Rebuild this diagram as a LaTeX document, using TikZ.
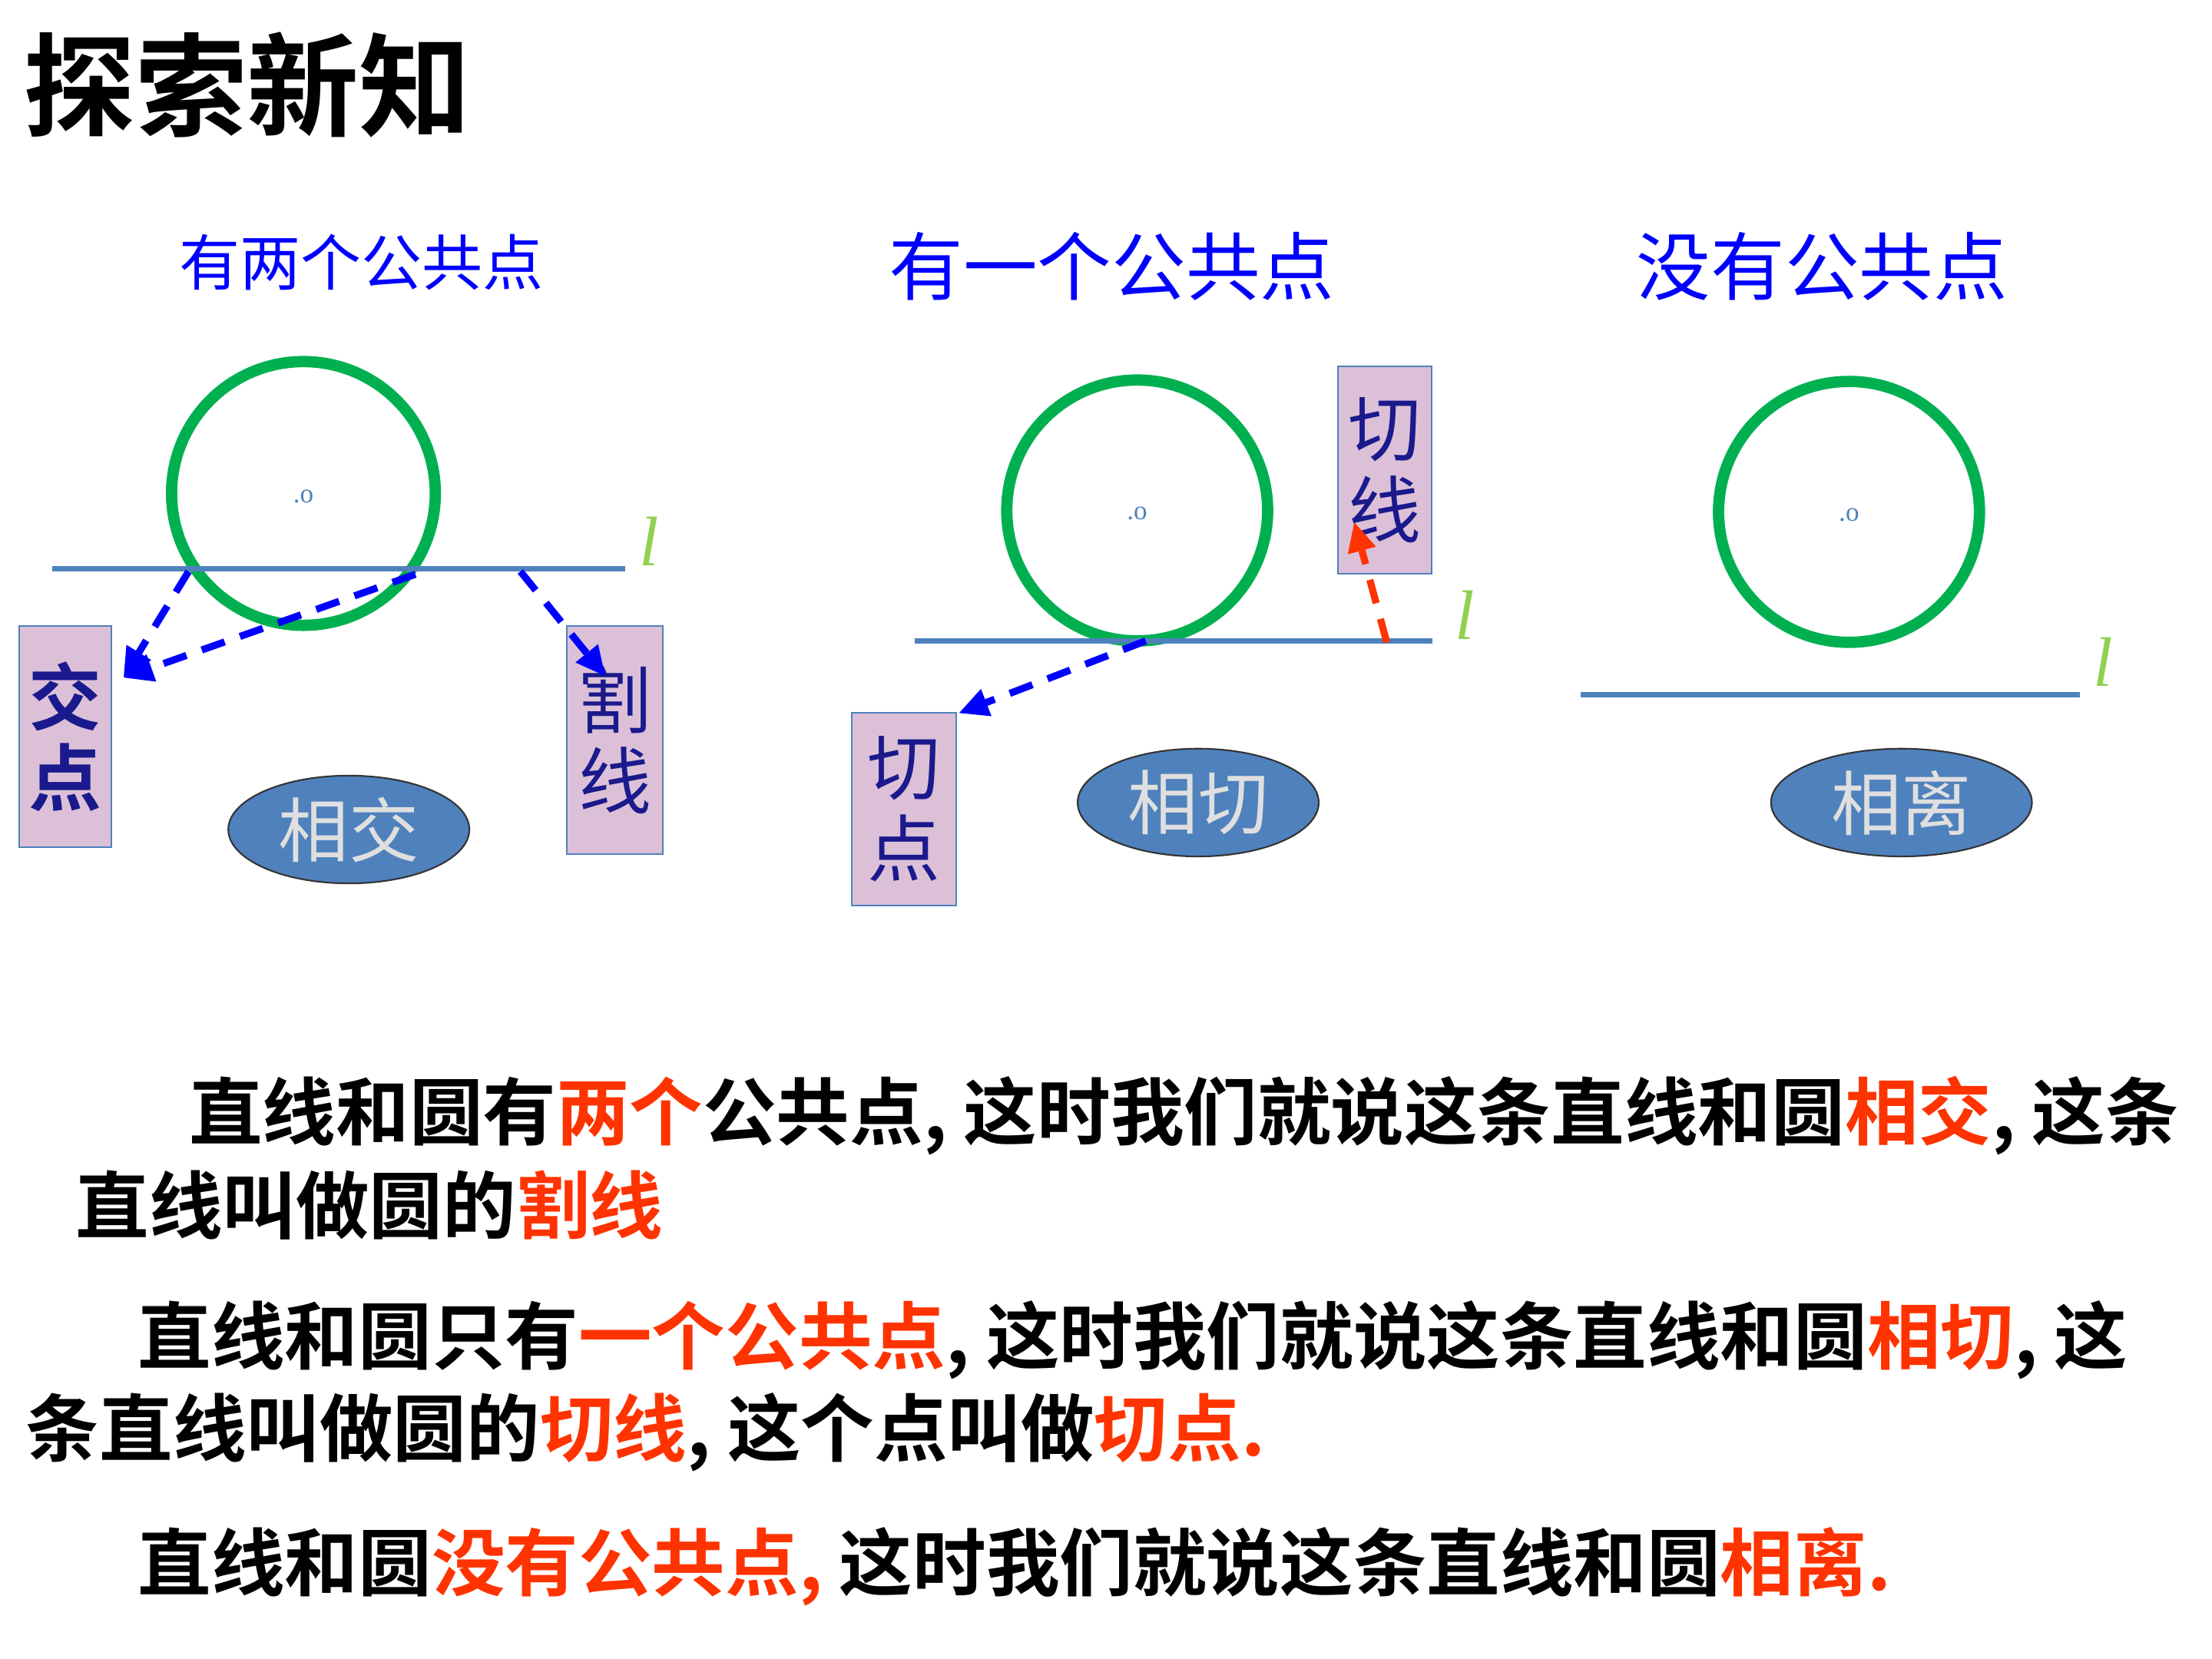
\documentclass[tikz,border=0pt]{standalone}
\usepackage{fontspec}
\setmainfont{Liberation Serif}
\newfontfamily\cjk{Noto Sans CJK SC}
\newfontfamily\cjkb{Noto Sans CJK SC Bold}
\usetikzlibrary{arrows.meta,shapes.geometric}
\definecolor{lineblue}{HTML}{4F81BD}
\definecolor{cgreen}{HTML}{00B050}
\definecolor{pinkbox}{HTML}{DCC0D8}
\definecolor{navy}{HTML}{1A1A8C}
\definecolor{hred}{HTML}{FF3300}
\definecolor{lgreen}{HTML}{92D050}
\tikzset{
 circ/.style={draw=cgreen,line width=8pt*0.5246},
 sline/.style={draw=lineblue,line width=4pt*0.5246},
 vbox/.style={draw=lineblue,fill=pinkbox,line width=0.6pt,minimum width=#1,inner sep=0pt,align=center},
 ell/.style={draw=black!80,fill=lineblue,ellipse,line width=0.6pt},
 ltxt/.style={text=lgreen,font=\itshape\fontsize{26}{26}\selectfont},
 head/.style={text=blue,font=\cjk},
 darr/.style={line width=5pt*0.5246,-{Triangle[length=11pt,width=10pt]},dash pattern=on 9pt off 6pt},
 body/.style={anchor=west,font=\cjkb\fontsize{27.2}{27.2}\selectfont,inner sep=0pt},
 otxt/.style={text=lineblue,font=\fontsize{10}{10}\selectfont}
}
\newcommand{\hr}[1]{\textcolor{hred}{#1}}
\begin{document}
\begin{tikzpicture}[x=0.018462cm,y=-0.018462cm]
\useasboundingbox (0,0) rectangle (1560,1170);
\node[anchor=west,font=\cjkb\fontsize{41.5}{41.5}\selectfont,inner sep=0pt] (title) at (16,60) {探索新知};
\node[head,font=\cjk\fontsize{22.5}{22.5}\selectfont] (h1) at (255,185) {有两个公共点};
\node[head,font=\cjk\fontsize{27.5}{27.5}\selectfont] (h2) at (784,188) {有一个公共点};
\node[head,font=\cjk\fontsize{27.5}{27.5}\selectfont] (h3) at (1285,188) {没有公共点};
% panel 1
\draw[circ] (214,348) circle (93);
\node[otxt] (o1) at (214,350) {.o};
\draw[sline] (37,401) -- (441,401);
\node[ltxt] (l1) at (458,382) {l};
\node[vbox=65*0.018462cm,minimum height=156*0.018462cm,anchor=north west] (jd) at (13,441) {};
\node[text=navy,font=\cjkb\fontsize{27}{30}\selectfont,align=center] at (jd.center) {交\\点};
\node[vbox=68*0.018462cm,minimum height=161*0.018462cm,anchor=north west] (gx) at (399,441) {};
\node[text=navy,font=\cjk\fontsize{27}{30}\selectfont,align=center] at (gx.center) {割\\线};
\node[ell,minimum width=170*0.018462cm,minimum height=76*0.018462cm] (e1) at (246,585) {};
\node[text=gray!25,font=\cjk\fontsize{26}{26}\selectfont] at (e1.center) {相交};
\coordinate (p1) at (133,403); \coordinate (p2) at (293,405); \coordinate (p3) at (367,403);
\coordinate (t1) at (87,478); \coordinate (t2) at (427,477);
\draw[darr,blue] (p1) -- (t1);
\draw[darr,blue] (p2) -- (t1);
\draw[darr,blue] (p3) -- (t2);
% panel 2
\draw[circ] (802,360) circle (92);
\node[otxt] (o2) at (802,362) {.o};
\draw[sline] (645,452) -- (1010,452);
\node[ltxt] (l2) at (1033,434) {l};
\node[vbox=66*0.018462cm,minimum height=146*0.018462cm,anchor=north west] (qx) at (943,258) {};
\node[text=navy,font=\cjk\fontsize{27}{30}\selectfont,align=center] at (qx.center) {切\\线};
\node[vbox=74*0.018462cm,minimum height=136*0.018462cm,anchor=north west] (qd) at (600,502) {};
\node[text=navy,font=\cjk\fontsize{27}{30}\selectfont,align=center] at (qd.center) {切\\点};
\node[ell,minimum width=170*0.018462cm,minimum height=76*0.018462cm] (e2) at (845,566) {};
\node[text=gray!25,font=\cjk\fontsize{26}{26}\selectfont] at (e2.center) {相切};
\coordinate (q1) at (978,453); \coordinate (q2) at (955,368);
\coordinate (q3) at (808,452); \coordinate (q4) at (676,503);
\draw[darr,hred] (q1) -- (q2);
\draw[darr,blue] (q3) -- (q4);
% panel 3
\draw[circ] (1304,361) circle (92);
\node[otxt] (o3) at (1304,363) {.o};
\draw[sline] (1115,490) -- (1467,490);
\node[ltxt] (l3) at (1483,467) {l};
\node[ell,minimum width=184*0.018462cm,minimum height=76*0.018462cm] (e3) at (1341,566) {};
\node[text=gray!25,font=\cjk\fontsize{26}{26}\selectfont] at (e3.center) {相离};
% text
\node[body] (t1a) at (133,787) {直线和圆有\hr{两个}公共点, 这时我们就说这条直线和圆\hr{相交}, 这条};
\node[body] (t1b) at (53,850) {直线叫做圆的\hr{割线}};
\node[body] (t2a) at (97,945) {直线和圆只有\hr{一个公共点}, 这时我们就说这条直线和圆\hr{相切}, 这};
\node[body] (t2b) at (18,1010) {条直线叫做圆的\hr{切线}, 这个点叫做\hr{切点.}};
\node[body] (t3a) at (97,1105) {直线和圆\hr{没有公共点,} 这时我们就说这条直线和圆\hr{相离.}};
\end{tikzpicture}
\end{document}
